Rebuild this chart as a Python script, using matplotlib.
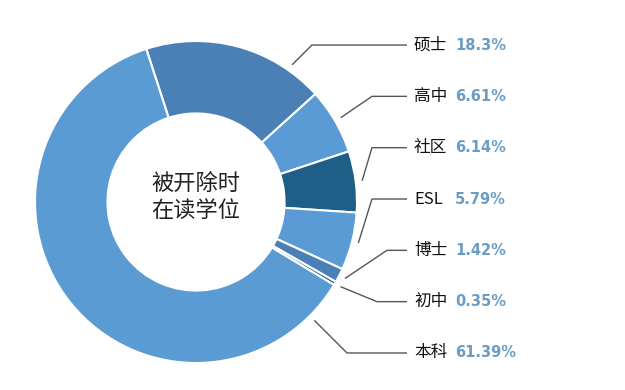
import numpy as np
import matplotlib
matplotlib.use("Agg")
import matplotlib.pyplot as plt

plt.rcParams['font.family'] = ['Noto Sans CJK SC', 'DejaVu Sans']

categories = ['硕士', '高中', '社区', 'ESL', '博士', '初中', '本科']
values = [18.3, 6.61, 6.14, 5.79, 1.42, 0.35, 61.39]
pct_labels = ['18.3%', '6.61%', '6.14%', '5.79%', '1.42%', '0.35%', '61.39%']
colors = ['#4a80b6', '#5b9bd5', '#1f5f87', '#5b9bd5', '#4a80b6', '#1f5f87', '#5b9bd3']
center_text = '被开除时\n在读学位'

W, H = 625, 390
fig = plt.figure(figsize=(W / 100, H / 100), dpi=100)
ax = fig.add_axes([0, 0, 1, 1])

cx, cy, R = 196, 202, 161
start = 108
wedges, _ = ax.pie(values, radius=1, startangle=start, counterclock=False,
                   colors=colors,
                   wedgeprops=dict(width=0.45, edgecolor='white', linewidth=1.5))
ax.set_xlim(-cx / R, (W - cx) / R)
ax.set_ylim((cy - H) / R, cy / R)
ax.set_aspect('equal')
ax.axis('off')

ax.text(0, 0.03, center_text, ha='center', va='center', fontsize=16,
        linespacing=1.2, color='#222222')

# labels & leader lines
name_x = (414 - cx) / R
pct_x = (455 - cx) / R
line_end = (407 - cx) / R
elbow_x = [0.72, 1.093, 1.093, 1.093, 1.186, 1.124, 0.938]
top_y = 0.975
step = 0.3188
for i, (w, name, pl) in enumerate(zip(wedges, categories, pct_labels)):
    ly = top_y - i * step
    mid = (w.theta1 + w.theta2) / 2
    if mid > 180:
        mid -= 360
    ang = np.deg2rad(np.clip(mid, -45, 55))
    ar = 1.04
    axp, ayp = ar * np.cos(ang), ar * np.sin(ang)
    ax.plot([axp, elbow_x[i], line_end], [ayp, ly, ly], color='#555555', lw=1.0,
            solid_capstyle='butt')
    ax.text(name_x, ly, name, ha='left', va='center', fontsize=12, color='#111111')
    ax.text(pct_x, ly, pl, ha='left', va='center', fontsize=10.5, color='#6b9cc4',
            fontweight='bold', family=['DejaVu Sans'])

fig.savefig('out.png', dpi=100)
